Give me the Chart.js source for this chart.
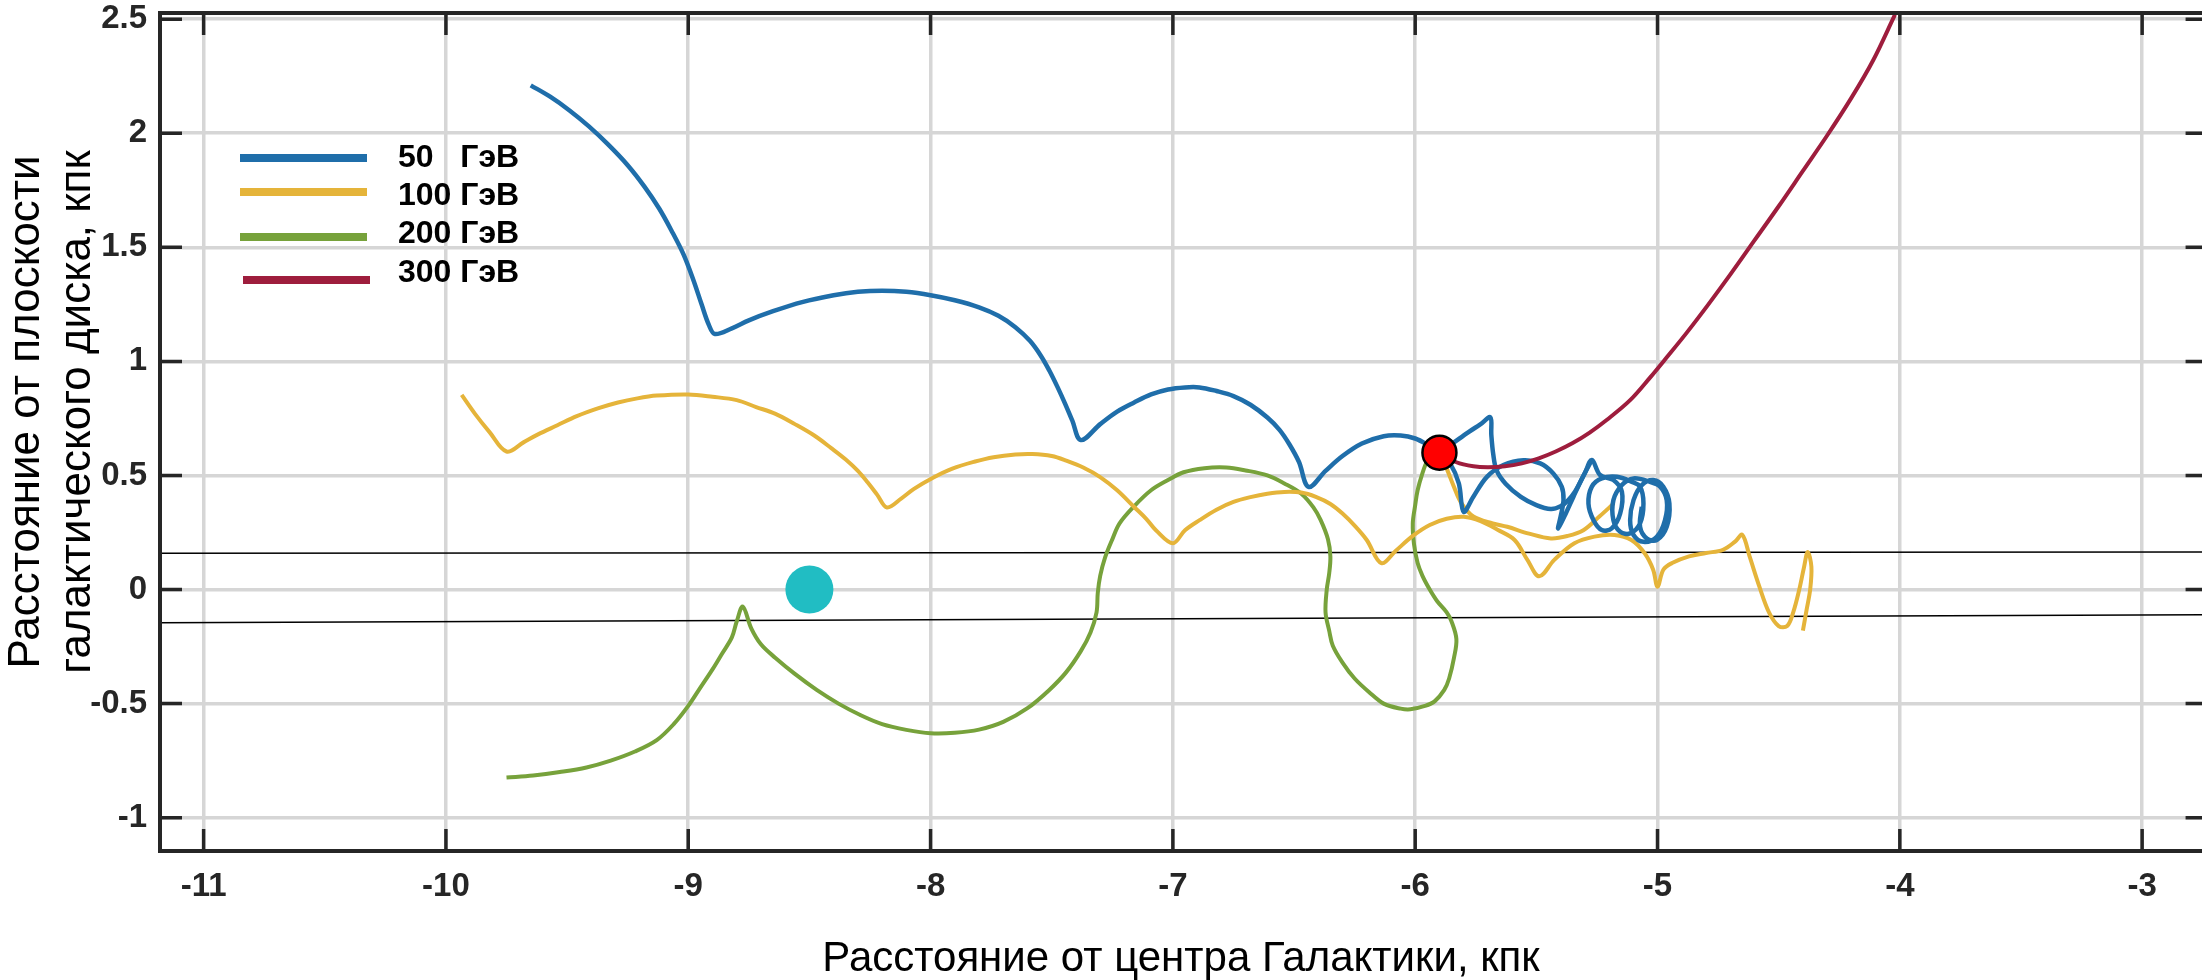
<!DOCTYPE html>
<html lang="ru">
<head>
<meta charset="utf-8">
<title>Траектории частиц</title>
<script src="https://cdn.jsdelivr.net/npm/chart.js@4.4.1/dist/chart.umd.min.js"></script>
<style>
  html, body { margin: 0; padding: 0; background: #fff; overflow: hidden; }
  #wrap { width: 2202px; height: 980px; overflow: hidden; }
  canvas { display: block; width: 2202px; height: 980px; }
</style>
</head>
<body>
<div id="wrap"><canvas id="orbitChart" width="2202" height="980"></canvas></div>
<script>
// пределы и деления осей, кпк (правая граница рамки — за краем рисунка)
const xMin = -11.18, xMax = -2.753;
const yMin = -1.146, yMax = 2.527;
const xTicks = [-11, -10, -9, -8, -7, -6, -5, -4, -3];
const yTicks = [-1, -0.5, 0, 0.5, 1, 1.5, 2, 2.5];

const seriesNames = ['50   ГэВ', '100 ГэВ', '200 ГэВ', '300 ГэВ'];
const seriesColors = ['#1f6eaa', '#e5b43a', '#77a23b', '#9e1d3d'];
const yTitleLines = ['Расстояние от плоскости', 'галактического диска, кпк'];

// траектории [x, z]
const track50 = [
  [-9.65, 2.21], [-9.57, 2.16], [-9.49, 2.10], [-9.41, 2.03], [-9.33, 1.95], [-9.25, 1.86],
  [-9.18, 1.765], [-9.12, 1.67], [-9.07, 1.575], [-9.02, 1.47], [-8.98, 1.36], [-8.945, 1.25],
  [-8.915, 1.16], [-8.89, 1.12], [-8.82, 1.145], [-8.75, 1.18], [-8.65, 1.22], [-8.53, 1.26],
  [-8.40, 1.29], [-8.30, 1.305], [-8.20, 1.31], [-8.10, 1.305], [-8.00, 1.29], [-7.90, 1.268],
  [-7.80, 1.237], [-7.72, 1.20], [-7.65, 1.15], [-7.59, 1.09], [-7.545, 1.025], [-7.51, 0.96],
  [-7.475, 0.885], [-7.445, 0.815], [-7.415, 0.74], [-7.38, 0.655], [-7.30, 0.725], [-7.23, 0.78],
  [-7.16, 0.82], [-7.09, 0.855], [-7.02, 0.877], [-6.95, 0.886], [-6.89, 0.886], [-6.82, 0.87],
  [-6.75, 0.848], [-6.68, 0.81], [-6.61, 0.754], [-6.56, 0.70], [-6.52, 0.638], [-6.48, 0.56],
  [-6.44, 0.45], [-6.37, 0.52], [-6.30, 0.585], [-6.22, 0.64], [-6.13, 0.672], [-6.06, 0.675],
  [-6.00, 0.662], [-5.95, 0.635], [-5.90, 0.60], [-5.84, 0.645], [-5.78, 0.69], [-5.73, 0.725],
  [-5.69, 0.755], [-5.686, 0.68], [-5.678, 0.594], [-5.664, 0.522], [-5.627, 0.464], [-5.564, 0.406],
  [-5.50, 0.37], [-5.44, 0.353], [-5.40, 0.365], [-5.37, 0.39], [-5.34, 0.43], [-5.30, 0.51],
  [-5.271, 0.568],
  [-5.237, 0.502], [-5.182, 0.480], [-5.147, 0.429], [-5.154, 0.334], [-5.189, 0.268], [-5.230, 0.261],
  [-5.264, 0.304], [-5.285, 0.377], [-5.271, 0.451], [-5.230, 0.487], [-5.168, 0.494],
  [-5.106, 0.472], [-5.072, 0.451], [-5.058, 0.377], [-5.072, 0.290], [-5.113, 0.246], [-5.154, 0.253],
  [-5.182, 0.304], [-5.182, 0.392], [-5.147, 0.458], [-5.099, 0.487],
  [-5.031, 0.472], [-4.989, 0.451], [-4.962, 0.392], [-4.969, 0.304], [-5.003, 0.231], [-5.058, 0.209],
  [-5.099, 0.239], [-5.113, 0.304], [-5.099, 0.392], [-5.065, 0.458], [-5.017, 0.480],
  [-4.976, 0.451], [-4.951, 0.377], [-4.962, 0.275], [-5.003, 0.217], [-5.044, 0.224], [-5.072, 0.275],
  [-5.065, 0.363]
];
const track50b = [
  [-5.90, 0.60], [-5.856, 0.553], [-5.82, 0.465], [-5.80, 0.341], [-5.76, 0.407], [-5.704, 0.494],
  [-5.636, 0.546], [-5.553, 0.567], [-5.484, 0.553], [-5.43, 0.509], [-5.395, 0.45], [-5.388, 0.392],
  [-5.40, 0.319], [-5.41, 0.268], [-5.38, 0.33], [-5.347, 0.407], [-5.31, 0.49], [-5.275, 0.56]
];
const track100 = [
  [-9.935, 0.853], [-9.88, 0.77], [-9.82, 0.69], [-9.75, 0.605], [-9.68, 0.645], [-9.62, 0.68],
  [-9.54, 0.72], [-9.46, 0.76], [-9.37, 0.795], [-9.29, 0.82], [-9.21, 0.838], [-9.13, 0.85],
  [-9.00, 0.855], [-8.90, 0.845], [-8.80, 0.83], [-8.72, 0.80], [-8.64, 0.77], [-8.56, 0.725],
  [-8.48, 0.675], [-8.41, 0.62], [-8.35, 0.57], [-8.30, 0.52], [-8.26, 0.47], [-8.22, 0.415],
  [-8.18, 0.36], [-8.12, 0.40], [-8.07, 0.44], [-7.99, 0.49], [-7.91, 0.53], [-7.82, 0.56],
  [-7.74, 0.58], [-7.65, 0.592], [-7.58, 0.594], [-7.50, 0.585], [-7.44, 0.565], [-7.37, 0.535],
  [-7.30, 0.493], [-7.23, 0.435], [-7.16, 0.362], [-7.11, 0.31], [-7.07, 0.26], [-7.00, 0.203],
  [-6.95, 0.26], [-6.89, 0.304], [-6.82, 0.35], [-6.75, 0.384], [-6.68, 0.405], [-6.61, 0.42],
  [-6.54, 0.428], [-6.47, 0.425], [-6.41, 0.406], [-6.35, 0.375], [-6.30, 0.333], [-6.25, 0.28],
  [-6.20, 0.217], [-6.14, 0.116], [-6.08, 0.17], [-6.01, 0.235], [-5.94, 0.283], [-5.87, 0.31],
  [-5.80, 0.319], [-5.73, 0.30], [-5.66, 0.262], [-5.59, 0.217], [-5.537, 0.13], [-5.488, 0.058],
  [-5.426, 0.13], [-5.343, 0.203], [-5.26, 0.232], [-5.177, 0.239], [-5.108, 0.217], [-5.053, 0.159],
  [-5.018, 0.087], [-5.00, 0.012], [-4.976, 0.087], [-4.94, 0.116], [-4.87, 0.145], [-4.80, 0.16],
  [-4.73, 0.174], [-4.68, 0.21], [-4.65, 0.24], [-4.62, 0.145], [-4.58, 0.014], [-4.54, -0.10],
  [-4.50, -0.16], [-4.465, -0.16], [-4.44, -0.10], [-4.415, 0.0], [-4.395, 0.10], [-4.38, 0.165],
  [-4.365, 0.10], [-4.37, 0.0], [-4.385, -0.09], [-4.40, -0.18]
];
const track100b = [
  [-5.90, 0.60], [-5.87, 0.53], [-5.84, 0.45], [-5.81, 0.38], [-5.76, 0.32], [-5.68, 0.29],
  [-5.62, 0.275], [-5.53, 0.245], [-5.44, 0.224], [-5.37, 0.235], [-5.306, 0.26], [-5.24, 0.32],
  [-5.18, 0.378]
];
const track200 = [
  [-9.75, -0.824], [-9.64, -0.815], [-9.53, -0.80], [-9.42, -0.78], [-9.32, -0.75], [-9.22, -0.71],
  [-9.13, -0.66], [-9.06, -0.59], [-9.00, -0.51], [-8.95, -0.43], [-8.90, -0.35], [-8.86, -0.28],
  [-8.82, -0.21], [-8.80, -0.14], [-8.775, -0.075], [-8.74, -0.17], [-8.70, -0.24], [-8.64, -0.30],
  [-8.56, -0.37], [-8.47, -0.44], [-8.38, -0.50], [-8.29, -0.55], [-8.20, -0.59], [-8.10, -0.615],
  [-8.00, -0.63], [-7.90, -0.628], [-7.80, -0.614], [-7.70, -0.58], [-7.60, -0.52], [-7.51, -0.44],
  [-7.44, -0.362], [-7.38, -0.27], [-7.34, -0.188], [-7.315, -0.10], [-7.31, -0.015], [-7.30, 0.06],
  [-7.28, 0.14], [-7.25, 0.22], [-7.22, 0.29], [-7.16, 0.365], [-7.09, 0.435], [-7.02, 0.48],
  [-6.956, 0.514], [-6.87, 0.532], [-6.78, 0.535], [-6.70, 0.522], [-6.61, 0.50], [-6.54, 0.465],
  [-6.47, 0.42], [-6.42, 0.36], [-6.39, 0.304], [-6.36, 0.22], [-6.35, 0.145], [-6.355, 0.07],
  [-6.365, 0.0], [-6.37, -0.10], [-6.355, -0.18], [-6.34, -0.246], [-6.30, -0.32], [-6.25, -0.39],
  [-6.19, -0.45], [-6.13, -0.50], [-6.06, -0.522], [-6.02, -0.525], [-5.96, -0.51], [-5.92, -0.49],
  [-5.88, -0.44], [-5.86, -0.39], [-5.84, -0.30], [-5.83, -0.217], [-5.85, -0.14], [-5.87, -0.10],
  [-5.91, -0.05], [-5.94, 0.0], [-5.97, 0.06], [-5.99, 0.116], [-6.005, 0.20], [-6.01, 0.29],
  [-6.00, 0.37], [-5.99, 0.435], [-5.97, 0.51], [-5.95, 0.565], [-5.92, 0.61]
];
const track300 = [
  [-5.90, 0.60], [-5.83, 0.558], [-5.76, 0.54], [-5.70, 0.536], [-5.63, 0.54], [-5.56, 0.553],
  [-5.49, 0.575], [-5.42, 0.605], [-5.35, 0.642], [-5.28, 0.688], [-5.21, 0.743], [-5.113, 0.83],
  [-5.03, 0.93], [-4.96, 1.02], [-4.88, 1.125], [-4.79, 1.25], [-4.70, 1.38], [-4.60, 1.53],
  [-4.50, 1.68], [-4.40, 1.835], [-4.30, 1.99], [-4.20, 2.155], [-4.11, 2.32], [-4.02, 2.52]
];

// Солнце, точка старта и границы диска
const sunPos = [[-8.5, 0]];
const sourcePos = [[-5.9, 0.6]];
const discTop = [[xMin, 0.159], [xMax, 0.165]];
const discBottom = [[xMin, -0.146], [xMax, -0.111]];

const FONT = '"Liberation Sans", Arial, sans-serif';
const toPoints = arr => arr.map(([x, y]) => ({ x, y }));

function track(data, color, order, width) {
    return {
        data: toPoints(data),
        showLine: true,
        borderColor: color,
        borderWidth: width || 4,
        pointRadius: 0,
        tension: 0.35,
        fill: false,
        order: order
    };
}

// рамка (левая, верхняя, нижняя стороны) и внутренние засечки
const framePlugin = {
    id: 'frame',
    afterDatasetsDraw(chart) {
        const { ctx, chartArea: a, scales: { x, y } } = chart;
        const len = 22;
        const rightEdge = x.getPixelForValue(-2.73);
        ctx.save();
        ctx.strokeStyle = '#262626';
        ctx.lineWidth = 4;
        ctx.beginPath();
        ctx.moveTo(a.right + 10, a.top);
        ctx.lineTo(a.left, a.top);
        ctx.lineTo(a.left, a.bottom);
        ctx.lineTo(a.right + 10, a.bottom);
        ctx.stroke();
        ctx.lineWidth = 3.5;
        ctx.beginPath();
        xTicks.forEach(v => {
            const px = x.getPixelForValue(v);
            ctx.moveTo(px, a.bottom); ctx.lineTo(px, a.bottom - len);
            ctx.moveTo(px, a.top); ctx.lineTo(px, a.top + len);
        });
        yTicks.forEach(v => {
            const py = y.getPixelForValue(v);
            ctx.moveTo(a.left, py); ctx.lineTo(a.left + len, py);
            ctx.moveTo(rightEdge, py); ctx.lineTo(rightEdge - len, py);
        });
        ctx.stroke();
        ctx.restore();
    }
};

// подпись оси Z в две строки и легенда в левом верхнем углу
const labelsPlugin = {
    id: 'sideLabels',
    afterDraw(chart) {
        const ctx = chart.ctx;
        ctx.save();
        ctx.translate(27, 412);
        ctx.rotate(-Math.PI / 2);
        ctx.font = '44px ' + FONT;
        ctx.fillStyle = '#000';
        ctx.textAlign = 'center';
        ctx.textBaseline = 'middle';
        yTitleLines.forEach((line, i) => ctx.fillText(line, 0, i * 51));
        ctx.restore();

        const lineY = [158, 192, 237, 280];
        const textY = [158, 196, 234, 273];
        ctx.save();
        ctx.font = 'bold 32px ' + FONT;
        ctx.textBaseline = 'middle';
        ctx.textAlign = 'left';
        seriesNames.forEach((name, i) => {
            const shift = i === 3 ? 3 : 0;
            ctx.strokeStyle = seriesColors[i];
            ctx.lineWidth = 8;
            ctx.beginPath();
            ctx.moveTo(240 + shift, lineY[i]);
            ctx.lineTo(367 + shift, lineY[i]);
            ctx.stroke();
            ctx.fillStyle = '#000';
            ctx.fillText(name, 398, textY[i]);
        });
        ctx.restore();
    }
};

const chart = new Chart(document.getElementById('orbitChart'), {
    type: 'scatter',
    data: {
        datasets: [
            { data: toPoints(sourcePos), pointRadius: 17, pointBackgroundColor: '#ff0000', pointBorderColor: '#000', pointBorderWidth: 2.5, showLine: false, order: 0 },
            { data: toPoints(sunPos), pointRadius: 24, pointBackgroundColor: '#21bdc3', pointBorderWidth: 0, showLine: false, order: 1 },
            track(track300, seriesColors[3], 2),
            track(track50, seriesColors[0], 3, 4.5),
            track(track50b, seriesColors[0], 3, 4.5),
            track(track100, seriesColors[1], 4),
            track(track100b, seriesColors[1], 4),
            track(track200, seriesColors[2], 5),
            { data: toPoints(discTop), showLine: true, borderColor: '#000', borderWidth: 1.5, pointRadius: 0, order: 6 },
            { data: toPoints(discBottom), showLine: true, borderColor: '#000', borderWidth: 1.5, pointRadius: 0, order: 6 }
        ]
    },
    options: {
        responsive: false,
        animation: false,
        layout: { autoPadding: false, padding: { top: 13, right: 0, bottom: 0, left: 0 } },
        plugins: {
            legend: { display: false },
            tooltip: { enabled: false }
        },
        scales: {
            x: {
                type: 'linear',
                min: xMin,
                max: xMax,
                afterBuildTicks: s => { s.ticks = xTicks.map(v => ({ value: v })); },
                afterFit: s => { s.height = 129; s.paddingLeft = 0; s.paddingRight = 0; },
                grid: { color: '#d6d6d6', lineWidth: 3.5, drawTicks: false },
                border: { display: false },
                ticks: {
                    padding: 16,
                    autoSkip: false,
                    maxRotation: 0,
                    color: '#262626',
                    font: { family: FONT, size: 33, weight: 'bold' },
                    callback: v => String(v)
                },
                title: {
                    display: true,
                    text: 'Расстояние от центра Галактики, кпк',
                    color: '#000',
                    font: { family: FONT, size: 42, lineHeight: 1.0 },
                    padding: { top: 0, bottom: 0 }
                }
            },
            y: {
                type: 'linear',
                min: yMin,
                max: yMax,
                afterBuildTicks: s => { s.ticks = yTicks.map(v => ({ value: v })); },
                afterFit: s => { s.width = 160; s.paddingTop = 0; s.paddingBottom = 0; },
                grid: { color: '#d6d6d6', lineWidth: 3.5, drawTicks: false },
                border: { display: false },
                ticks: {
                    padding: 13,
                    color: '#262626',
                    font: { family: FONT, size: 33, weight: 'bold', lineHeight: 0.8 },
                    callback: v => String(v)
                }
            }
        }
    },
    plugins: [framePlugin, labelsPlugin]
});
</script>
</body>
</html>
